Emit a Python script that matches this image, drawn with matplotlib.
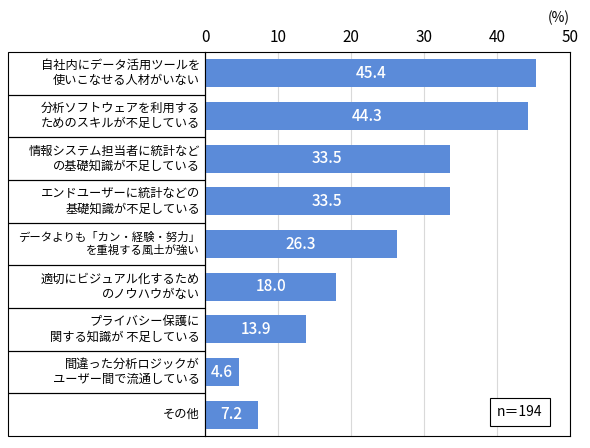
import matplotlib
matplotlib.use("Agg")
import matplotlib.pyplot as plt
from matplotlib.patches import Rectangle

plt.rcParams['font.family'] = ['Noto Sans CJK JP', 'DejaVu Sans']

labels = ["自社内にデータ活用ツールを\n使いこなせる人材がいない",
          "分析ソフトウェアを利用する\nためのスキルが不足している",
          "情報システム担当者に統計など\nの基礎知識が不足している",
          "エンドユーザーに統計などの\n基礎知識が不足している",
          "データよりも「カン・経験・努力」\nを重視する風土が強い",
          "適切にビジュアル化するため\nのノウハウがない",
          "プライバシー保護に\n関する知識が 不足している",
          "間違った分析ロジックが\nユーザー間で流通している",
          "その他"]
values = [45.4, 44.3, 33.5, 33.5, 26.3, 18.0, 13.9, 4.6, 7.2]
ticks = [0, 10, 20, 30, 40, 50]

W, H = 590, 448
fig = plt.figure(figsize=(W/100, H/100), dpi=100)
L, R, T, B = 205, 570, 52, 436
ax = fig.add_axes([L/W, 1-B/H, (R-L)/W, (B-T)/H])
n = len(values)
ys = list(range(n))
ax.barh(ys, values, height=0.66, color="#5B8BD9", zorder=3)
for y, v in zip(ys, values):
    ax.text(v/2, y, f"{v:.1f}", color="white", ha="center", va="center", fontsize=11,
            fontweight="medium", zorder=4)
ax.set_xlim(0, 50)
ax.set_ylim(n-0.5, -0.5)
ax.set_xticks(ticks)
ax.xaxis.tick_top()
ax.tick_params(axis='x', length=0, labelsize=11, pad=4)
ax.set_yticks([])
ax.grid(axis='x', color="#d9d9d9", lw=0.8, zorder=0)
for s in ax.spines.values():
    s.set_color("black"); s.set_linewidth(0.8)

rowh = (B-T)/n
for i, lab in enumerate(labels):
    y0 = T + i*rowh
    fig.add_artist(Rectangle((8/W, 1-(y0+rowh)/H), (L-8)/W, rowh/H, transform=fig.transFigure,
                             fill=False, edgecolor="black", lw=0.8))
    fs = 8.2 if i == 4 else 8.8
    fig.text((L-5)/W, 1-(y0+rowh/2)/H, lab, ha="right", va="center", fontsize=fs, linespacing=1.2)

fig.text(570/W, 1-18/H, "(%)", ha="right", va="center", fontsize=10)
fig.text(520/W, 1-412/H, "n＝194", ha="center", va="center", fontsize=10,
         bbox=dict(boxstyle="square,pad=0.5", fc="white", ec="black", lw=0.8), zorder=5)

fig.savefig("out.png", dpi=100, facecolor="white")
